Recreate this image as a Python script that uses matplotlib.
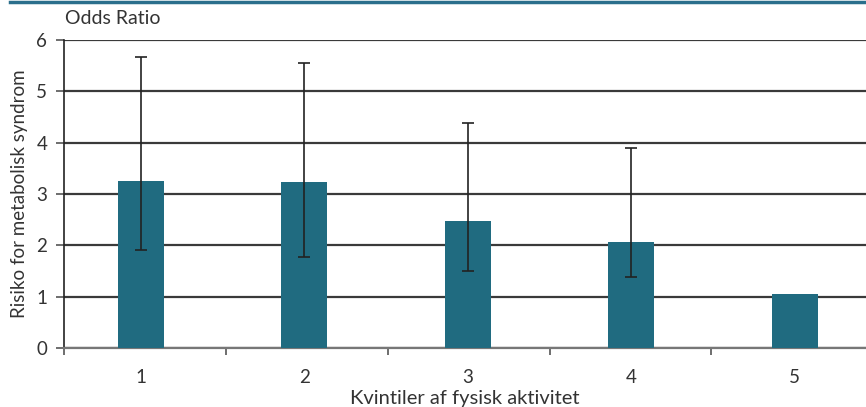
import matplotlib.pyplot as plt
import numpy as np

plt.rcParams['font.family'] = ['Lato', 'DejaVu Sans']

# Data
quintiles = ['1', '2', '3', '4', '5']
odds_ratio = [3.25, 3.23, 2.47, 2.06, 1.05]
ci_lower = [1.90, 1.78, 1.50, 1.39, 1.05]
ci_upper = [5.67, 5.55, 4.38, 3.90, 1.05]

bar_color = '#206b80'
grid_color = '#3a3a3a'

fig = plt.figure(figsize=(8.66, 4.07), dpi=100)
ax = fig.add_axes([64 / 866, 59 / 407, 802 / 866, 308 / 407])

x = np.arange(len(quintiles))
ax.bar(x, odds_ratio, width=0.28, color=bar_color, zorder=3)

# error bars only where there is an interval
lo = np.array(odds_ratio) - np.array(ci_lower)
hi = np.array(ci_upper) - np.array(odds_ratio)
mask = (lo > 0) | (hi > 0)
ax.errorbar(x[mask], np.array(odds_ratio)[mask], yerr=[lo[mask], hi[mask]],
            fmt='none', ecolor='#222222', elinewidth=1.2, capsize=4,
            capthick=1.2, zorder=4)

ax.set_xlim(-0.47, 4.435)
ax.set_ylim(0, 6)
ax.set_yticks(range(0, 7))
ax.yaxis.grid(True, color=grid_color, linewidth=1.6, zorder=0)
ax.set_axisbelow(True)

ax.set_xticks(x)
ax.set_xticklabels(quintiles)
ax.set_xticks([-0.47, 0.52, 1.51, 2.5, 3.49], minor=True)
ax.tick_params(axis='x', which='major', length=0, pad=15, labelsize=13.5, colors='#333333')
ax.tick_params(axis='x', which='minor', length=5, width=1.2, color='#555555')
ax.tick_params(axis='y', length=6, width=1.2, color='#555555', pad=6,
               labelsize=13.5, labelcolor='#333333')

for side in ['top', 'right']:
    ax.spines[side].set_visible(False)
ax.spines['left'].set_color('#222222')
ax.spines['left'].set_linewidth(1.2)
ax.spines['bottom'].set_color('#777777')
ax.spines['bottom'].set_linewidth(1.6)

ax.set_ylabel('Risiko for metabolisk syndrom', fontsize=13.5, color='#333333', labelpad=6)
ax.set_xlabel('Kvintiler af fysisk aktivitet', fontsize=14.5, color='#333333', labelpad=3)
fig.text(65 / 866, 1 - 18 / 407, 'Odds Ratio', fontsize=14, color='#333333',
         ha='left', va='center')

# teal rule across the top
fig.add_artist(plt.Line2D([10 / 866, 1], [1 - 1.5 / 407, 1 - 1.5 / 407],
                          color='#2b6f8c', linewidth=2.5))

fig.savefig('out.png', dpi=100)
